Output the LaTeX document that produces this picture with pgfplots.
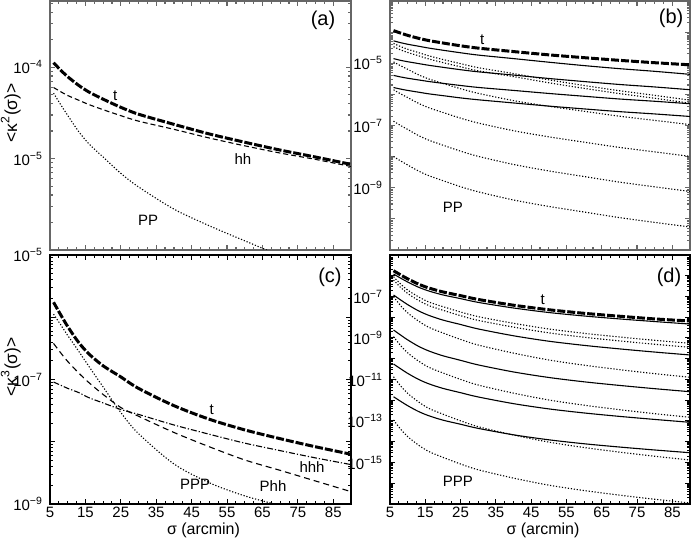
\documentclass[border=0pt]{standalone}
\usepackage{fontspec}
\setmainfont{Liberation Sans}
\usepackage{pgfplots}
\pgfplotsset{compat=1.18}
\makeatletter
\def\addminor#1{\ifx\minorlist\@empty\xdef\minorlist{#1}\else\xdef\minorlist{\minorlist,#1}\fi}
\def\buildminor#1#2#3{\gdef\minorlist{}\foreach \e in {#1,...,#2}{\foreach \m in {2,...,9}{\addminor{\m e\e}}}\global\let#3\minorlist}
\makeatother
\buildminor{-6}{-4}\minA
\buildminor{-11}{-4}\minB
\buildminor{-9}{-6}\minC
\buildminor{-17}{-6}\minD
\pgfplotsset{
  every axis/.append style={scale only axis, height=124.5pt, anchor=south west,
    xmin=5, xmax=90, clip=true,
    xtick={5,15,25,35,45,55,65,75,85}, minor x tick num=3,
    tick align=inside, major tick length=2.6pt, minor tick length=1.4pt,
    tick label style={font=\fontsize{7.5}{9}\selectfont},
    xticklabel style={inner sep=1.5pt}},
  every axis y label/.style={at={(rel axis cs:-0.13,0.55)}, rotate=90, anchor=center, font=\fontsize{8.7}{10}\selectfont},
  every axis x label/.style={at={(rel axis cs:0.51,-0.1064)}, anchor=center, inner sep=0pt, font=\fontsize{8}{9.5}\selectfont}
}
\tikzset{
  tline/.style={black, line width=1.5pt, dash pattern=on 4pt off 1pt, smooth},
  sline/.style={black, line width=0.55pt, smooth},
  dotl/.style={black, line width=0.55pt, dash pattern=on 0.6pt off 0.9pt, smooth},
  dashl/.style={black, line width=0.55pt, dash pattern=on 2.5pt off 1.5pt, smooth},
  dashdotl/.style={black, line width=0.55pt, dash pattern=on 3pt off 1pt on 0.6pt off 1pt, smooth},
  clab/.style={font=\fontsize{7.5}{9}\selectfont},
  plab/.style={font=\fontsize{10}{12}\selectfont}
}
\begin{document}
\begin{tikzpicture}
\useasboundingbox (0,0) rectangle (346pt,270pt);
% ---------------- (a)
\begin{axis}[ymode=log, width=150.5pt, at={(25pt,145pt)}, ymin=1e-6, ymax=5.3e-4,
  axis line style={black!60, line width=0.9pt}, every tick/.style={black!60, line width=0.6pt},
  ytick={1e-6,1e-5,1e-4}, yticklabels={,10\textsuperscript{−5},10\textsuperscript{−4}},
  minor ytick/.expanded={\minA}, xticklabels={},
  ylabel={<κ\textsuperscript{2}(σ)>}]
\addplot[tline] coordinates {(6,1.12e-4)(8,9.3e-5)(10,7.87e-5)(13,6.37e-5)(16,5.35e-5)(20,4.47e-5)(25,3.64e-5)(30,3.06e-5)(40,2.37e-5)(50,1.86e-5)(60,1.51e-5)(70,1.24e-5)(80,1.04e-5)(90,8.65e-6)};
\addplot[dashl] coordinates {(6,6.0e-5)(8,5.4e-5)(10,4.9e-5)(13,4.37e-5)(16,3.9e-5)(20,3.43e-5)(25,2.95e-5)(30,2.57e-5)(40,2.09e-5)(50,1.68e-5)(60,1.38e-5)(70,1.15e-5)(80,9.8e-6)(90,8.2e-6)};
\addplot[dotl] coordinates {(6,5.2e-5)(8,3.9e-5)(10,2.97e-5)(13,2.0e-5)(16,1.45e-5)(20,1.04e-5)(25,6.9e-6)(30,4.9e-6)(40,2.8e-6)(50,1.84e-6)(60,1.26e-6)(70,8.7e-7)(80,6.3e-7)(90,4.7e-7)};
\node[clab] at (axis cs:23.4,4.9e-5) {t};
\node[clab] at (axis cs:59.5,1.0e-5) {hh};
\node[clab] at (axis cs:32.7,2.1e-6) {PP};
\node[plab] at (rel axis cs:0.907,0.924) {(a)};
\end{axis}
% ---------------- (b)
\begin{axis}[ymode=log, width=150pt, at={(195pt,145pt)}, ymin=1e-11, ymax=1e-3,
  axis line style={black!60, line width=0.9pt}, every tick/.style={black!60, line width=0.6pt},
  ytick={1e-11,1e-10,1e-9,1e-8,1e-7,1e-6,1e-5,1e-4,1e-3},
  yticklabels={,,10\textsuperscript{−9},,10\textsuperscript{−7},,10\textsuperscript{−5},,},
  minor ytick/.expanded={\minB}, xticklabels={}]
\addplot[tline] coordinates {(6,1.12e-4)(8,9.3e-5)(10,7.87e-5)(13,6.37e-5)(16,5.35e-5)(20,4.47e-5)(25,3.64e-5)(30,3.06e-5)(40,2.37e-5)(50,1.86e-5)(60,1.51e-5)(70,1.24e-5)(80,1.04e-5)(90,8.9e-6)};
\addplot[sline] coordinates {(6,5.25e-5)(8,4.58e-5)(10,4.08e-5)(13,3.54e-5)(16,3.07e-5)(20,2.62e-5)(25,2.17e-5)(30,1.83e-5)(40,1.41e-5)(50,1.08e-5)(60,8.4e-6)(70,6.7e-6)(80,5.5e-6)(90,4.4e-6)};
\addplot[sline] coordinates {(6,1.41e-5)(8,1.24e-5)(10,1.12e-5)(13,9.8e-6)(16,8.6e-6)(20,7.4e-6)(25,6.2e-6)(30,5.3e-6)(40,4.17e-6)(50,3.24e-6)(60,2.58e-6)(70,2.08e-6)(80,1.73e-6)(90,1.41e-6)};
\addplot[sline] coordinates {(6,4.07e-6)(8,3.63e-6)(10,3.30e-6)(13,2.92e-6)(16,2.59e-6)(20,2.26e-6)(25,1.93e-6)(30,1.67e-6)(40,1.34e-6)(50,1.07e-6)(60,8.7e-7)(70,7.1e-7)(80,6.0e-7)(90,5.0e-7)};
\addplot[sline] coordinates {(6,1.66e-6)(8,1.48e-6)(10,1.34e-6)(13,1.18e-6)(16,1.04e-6)(20,9.1e-7)(25,7.7e-7)(30,6.7e-7)(40,5.3e-7)(50,4.2e-7)(60,3.41e-7)(70,2.79e-7)(80,2.35e-7)(90,1.95e-7)};
\addplot[dotl] coordinates {(6,4.32e-5)(8,3.43e-5)(10,2.82e-5)(13,2.21e-5)(16,1.73e-5)(20,1.32e-5)(25,9.7e-6)(30,7.2e-6)(40,4.66e-6)(50,2.93e-6)(60,1.93e-6)(70,1.31e-6)(80,9.3e-7)(90,6.5e-7)};
\addplot[dotl] coordinates {(6,3.39e-5)(8,2.69e-5)(10,2.22e-5)(13,1.75e-5)(16,1.37e-5)(20,1.05e-5)(25,7.7e-6)(30,5.7e-6)(40,3.72e-6)(50,2.36e-6)(60,1.56e-6)(70,1.06e-6)(80,7.5e-7)(90,5.2e-7)};
\addplot[dotl] coordinates {(6,1.10e-5)(8,8.3e-6)(10,6.4e-6)(13,4.29e-6)(16,3.13e-6)(20,2.25e-6)(25,1.52e-6)(30,1.08e-6)(40,6.3e-7)(50,4.14e-7)(60,2.86e-7)(70,1.99e-7)(80,1.46e-7)(90,1.07e-7)};
\addplot[dotl] coordinates {(6,1.41e-6)(8,1.04e-6)(10,7.9e-7)(13,5.2e-7)(16,3.72e-7)(20,2.62e-7)(25,1.72e-7)(30,1.20e-7)(40,6.8e-8)(50,4.32e-8)(60,2.91e-8)(70,1.98e-8)(80,1.42e-8)(90,1.02e-8)};
\addplot[dotl] coordinates {(6,1.38e-7)(8,1.00e-7)(10,7.5e-8)(13,4.8e-8)(16,3.37e-8)(20,2.33e-8)(25,1.50e-8)(30,1.02e-8)(40,5.6e-9)(50,3.47e-9)(60,2.29e-9)(70,1.52e-9)(80,1.07e-9)(90,7.6e-10)};
\addplot[dotl] coordinates {(6,1.0e-8)(8,7.3e-9)(10,5.4e-9)(13,3.48e-9)(16,2.44e-9)(20,1.69e-9)(25,1.08e-9)(30,7.4e-10)(40,4.04e-10)(50,2.51e-10)(60,1.66e-10)(70,1.10e-10)(80,7.7e-11)(90,5.5e-11)};
\node[clab] at (axis cs:31.1,5.5e-5) {t};
\node[clab] at (axis cs:22.8,2.3e-10) {PP};
\node[plab] at (rel axis cs:0.937,0.93) {(b)};
\end{axis}
% ---------------- (c)
\begin{axis}[ymode=log, width=150.5pt, at={(25pt,18pt)}, ymin=1e-9, ymax=1e-5,
  axis line style={black, line width=0.7pt}, every tick/.style={black, line width=0.5pt},
  ytick={1e-9,1e-8,1e-7,1e-6,1e-5},
  yticklabels={10\textsuperscript{−9},,10\textsuperscript{−7},,10\textsuperscript{−5}},
  minor ytick/.expanded={\minC}, xticklabels={5,15,25,35,45,55,65,75,85},
  ylabel={<κ\textsuperscript{3}(σ)>}, xlabel={σ (arcmin)}]
\addplot[tline] coordinates {(6,1.74e-6)(8,1.10e-6)(10,7.1e-7)(13,4.0e-7)(16,2.57e-7)(20,1.66e-7)(25,1.10e-7)(30,7.2e-8)(40,3.8e-8)(50,2.3e-8)(60,1.55e-8)(70,1.12e-8)(80,8.3e-9)(90,6.3e-9)};
\addplot[dotl] coordinates {(6,1.12e-6)(8,7.6e-7)(10,5.1e-7)(13,2.9e-7)(16,1.62e-7)(20,7.6e-8)(25,2.95e-8)(30,1.35e-8)(40,4.4e-9)(50,2.19e-9)(60,1.35e-9)(70,9.5e-10)(80,7.1e-10)};
\addplot[dashl, dash pattern=on 3pt off 2pt] coordinates {(6,3.8e-7)(8,2.69e-7)(10,1.95e-7)(13,1.29e-7)(16,8.9e-8)(20,5.75e-8)(25,3.55e-8)(30,2.57e-8)(40,1.41e-8)(50,8.3e-9)(60,5.1e-9)(70,3.47e-9)(80,2.34e-9)(90,1.58e-9)};
\addplot[dashdotl] coordinates {(6,9.1e-8)(8,8.1e-8)(10,7.2e-8)(13,6.2e-8)(16,5.1e-8)(20,4.2e-8)(25,3.3e-8)(30,2.75e-8)(40,1.86e-8)(50,1.32e-8)(60,9.5e-9)(70,7.2e-9)(80,5.5e-9)(90,4.3e-9)};
\node[clab] at (axis cs:50.7,3.3e-8) {t};
\node[clab] at (axis cs:79,3.9e-9) {hhh};
\node[clab] at (axis cs:68,1.96e-9) {Phh};
\node[clab] at (axis cs:46,2.1e-9) {PPP};
\node[plab] at (rel axis cs:0.93,0.91) {(c)};
\end{axis}
% ---------------- (d)
\begin{axis}[ymode=log, width=150pt, at={(195pt,18pt)}, ymin=1e-17, ymax=1e-5,
  axis line style={black, line width=0.7pt}, every tick/.style={black, line width=0.5pt},
  ytick={1e-17,1e-16,1e-15,1e-14,1e-13,1e-12,1e-11,1e-10,1e-9,1e-8,1e-7,1e-6,1e-5},
  yticklabels={,,10\textsuperscript{−15},,10\textsuperscript{−13},,10\textsuperscript{−11},,10\textsuperscript{−9},,10\textsuperscript{−7},,},
  minor ytick/.expanded={\minD}, xticklabels={5,15,25,35,45,55,65,75,85},
  xlabel={σ (arcmin)}]
\addplot[tline] coordinates {(6,1.74e-6)(8,1.10e-6)(10,7.1e-7)(13,4.0e-7)(16,2.57e-7)(20,1.66e-7)(25,1.10e-7)(30,7.2e-8)(40,3.8e-8)(50,2.3e-8)(60,1.55e-8)(70,1.12e-8)(80,8.3e-9)(90,6.6e-9)};
\addplot[sline] coordinates {(6,1.21e-6)(8,7.7e-7)(10,5.0e-7)(13,2.84e-7)(16,1.84e-7)(20,1.19e-7)(25,7.9e-8)(30,5.2e-8)(40,2.79e-8)(50,1.69e-8)(60,1.15e-8)(70,8.3e-9)(80,6.2e-9)(90,4.7e-9)};
\addplot[sline] coordinates {(6,1.18e-7)(8,6.84e-8)(10,4.06e-8)(13,2.07e-8)(16,1.23e-8)(20,7.31e-9)(25,4.47e-9)(30,2.73e-9)(40,1.28e-9)(50,7.0e-10)(60,4.41e-10)(70,2.99e-10)(80,2.10e-10)(90,1.52e-10)};
\addplot[sline] coordinates {(6,2.43e-9)(8,1.39e-9)(10,8.13e-10)(13,4.05e-10)(16,2.37e-10)(20,1.39e-10)(25,8.38e-11)(30,5.05e-11)(40,2.31e-11)(50,1.25e-11)(60,7.73e-12)(70,5.19e-12)(80,3.61e-12)(90,2.58e-12)};
\addplot[sline] coordinates {(6,5.58e-11)(8,3.29e-11)(10,1.98e-11)(13,1.03e-11)(16,6.19e-12)(20,3.73e-12)(25,2.31e-12)(30,1.44e-12)(40,6.85e-13)(50,3.83e-13)(60,2.44e-13)(70,1.67e-13)(80,1.19e-13)(90,8.65e-14)};
\addplot[sline] coordinates {(6,1.48e-12)(8,8.91e-13)(10,5.48e-13)(13,2.91e-13)(16,1.79e-13)(20,1.10e-13)(25,6.97e-14)(30,4.40e-14)(40,2.16e-14)(50,1.24e-14)(60,8.0e-15)(70,5.57e-15)(80,4.01e-15)(90,2.96e-15)};
\addplot[dotl] coordinates {(6,9.0e-7)(8,3.99e-7)(10,2.05e-7)(13,9.8e-8)(16,5.43e-8)(20,3.24e-8)(25,1.79e-8)(30,1.07e-8)(40,5.1e-9)(50,2.72e-9)(60,1.68e-9)(70,1.12e-9)(80,7.74e-10)(90,5.56e-10)};
\addplot[dotl] coordinates {(6,6.24e-7)(8,2.74e-7)(10,1.40e-7)(13,6.64e-8)(16,3.66e-8)(20,2.17e-8)(25,1.19e-8)(30,7.06e-9)(40,3.35e-9)(50,1.77e-9)(60,1.09e-9)(70,7.24e-10)(80,4.99e-10)(90,3.56e-10)};
\addplot[dotl] coordinates {(6,9.77e-8)(8,3.66e-8)(10,1.63e-8)(13,6.68e-9)(16,3.27e-9)(20,1.75e-9)(25,8.53e-10)(30,4.57e-10)(40,1.87e-10)(50,8.73e-11)(60,4.89e-11)(70,2.99e-11)(80,1.91e-11)(90,1.28e-11)};
\addplot[dotl] coordinates {(6,1.16e-9)(8,4.33e-10)(10,1.93e-10)(13,7.89e-11)(16,3.86e-11)(20,2.07e-11)(25,1.01e-11)(30,5.40e-12)(40,2.20e-12)(50,1.03e-12)(60,5.77e-13)(70,3.52e-13)(80,2.25e-13)(90,1.51e-13)};
\addplot[dotl] coordinates {(6,1.36e-11)(8,4.93e-12)(10,2.15e-12)(13,8.51e-13)(16,4.06e-13)(20,2.13e-13)(25,1.02e-13)(30,5.32e-14)(40,2.11e-14)(50,9.62e-15)(60,5.27e-15)(70,3.17e-15)(80,2.0e-15)(90,1.32e-15)};
\addplot[dotl] coordinates {(6,1.12e-13)(8,4.06e-14)(10,1.77e-14)(13,7.05e-15)(16,3.37e-15)(20,1.77e-15)(25,8.47e-16)(30,4.45e-16)(40,1.77e-16)(50,8.09e-17)(60,4.45e-17)(70,2.68e-17)(80,1.69e-17)(90,1.12e-17)};
\node[clab] at (axis cs:48.3,7.4e-8) {t};
\node[clab] at (axis cs:24.2,1.17e-16) {PPP};
\node[plab] at (rel axis cs:0.93,0.91) {(d)};
\end{axis}
\end{tikzpicture}
\end{document}
